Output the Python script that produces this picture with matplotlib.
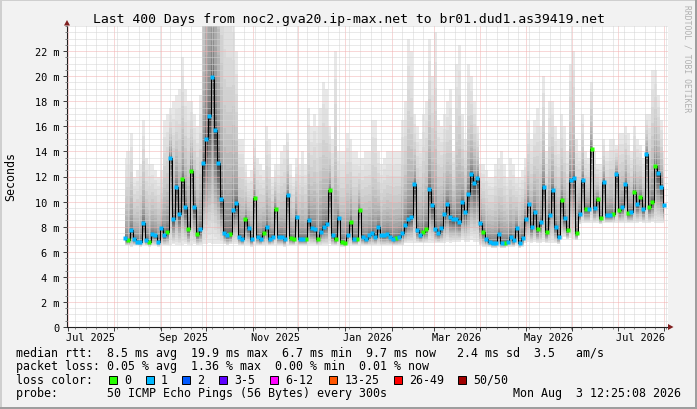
import datetime as dt
import numpy as np
import matplotlib
matplotlib.use("Agg")
import matplotlib.pyplot as plt
import matplotlib.dates as mdates
from matplotlib.patches import Polygon, Rectangle
from matplotlib.ticker import FixedLocator, MultipleLocator, FuncFormatter

# smokeping samples, one every 2 days starting 2025-08-08, values in ms
first_day = dt.datetime(2025, 8, 8)
step_days = 2

median_ms = [
    7.1, 6.9, 7.7, 7.0, 6.8, 6.8, 8.3, 6.9, 6.8, 7.4,
    7.3, 6.8, 7.9, 7.3, 7.6, 13.5, 8.6, 11.2, 9.0, 11.8,
    9.6, 7.8, 12.4, 9.6, 7.4, 7.8, 13.1, 15.0, 16.8, 19.9,
    15.7, 13.1, 10.2, 7.5, 7.3, 7.4, 9.3, 9.9, 7.2, 7.0,
    8.6, 7.9, 7.0, 10.3, 7.2, 7.0, 7.5, 8.0, 7.0, 7.2,
    9.4, 7.2, 7.2, 7.0, 10.5, 7.1, 7.0, 8.8, 7.0, 7.0,
    7.0, 8.5, 7.9, 7.8, 7.0, 7.6, 8.0, 8.2, 10.9, 7.3,
    7.0, 8.7, 6.8, 6.7, 7.3, 8.4, 7.0, 7.0, 9.3, 7.2,
    7.0, 7.3, 7.5, 7.2, 8.0, 7.3, 7.3, 7.4, 7.2, 7.0,
    7.1, 7.2, 7.5, 8.1, 8.6, 8.8, 11.4, 7.7, 7.3, 7.6,
    7.8, 11.0, 9.7, 7.8, 7.5, 7.9, 9.0, 9.8, 8.8, 8.6,
    8.6, 8.4, 10.0, 9.2, 10.6, 12.2, 11.5, 11.9, 8.3, 7.6,
    7.0, 6.8, 6.7, 6.7, 7.4, 6.7, 6.7, 6.8, 7.2, 6.9,
    7.9, 6.7, 7.1, 8.6, 9.8, 8.0, 9.2, 7.8, 8.4, 11.2,
    7.6, 8.9, 10.9, 8.0, 7.2, 10.1, 8.7, 7.7, 11.7, 11.9,
    7.5, 9.0, 11.7, 9.4, 9.4, 14.2, 9.5, 10.2, 8.7, 11.6,
    8.9, 8.9, 9.0, 12.2, 9.3, 9.6, 11.4, 9.1, 9.2, 10.8,
    9.8, 10.4, 9.4, 13.8, 9.6, 10.0, 12.8, 12.3, 11.2, 9.7,
]

# slowest ping of each sample (top of the smoke)
smoke_top_ms = [
    13.5, 14, 15.5, 12, 12.5, 13, 16.5, 13.5, 13, 13,
    12.5, 12, 12.5, 16.5, 17, 17.5, 18, 18.5, 19, 21.5,
    19, 18, 18, 17, 16, 18.5, 40, 55, 60, 60,
    55, 45, 32, 28, 27, 27, 26, 22, 15, 15,
    13, 12, 12.5, 15, 13.5, 13, 12.5, 16, 15, 12,
    13, 13, 14, 14.5, 15.5, 13, 12, 13.5, 13, 14,
    13, 17.5, 16, 17, 16, 17.5, 19.5, 19, 16, 15,
    22, 14, 14, 14, 15.5, 15, 14, 14, 13.5, 13.5,
    14, 14, 16.5, 16.5, 14, 13, 13.5, 14, 14, 14,
    14, 14, 16.5, 18, 23, 22, 17, 16, 15, 17,
    18, 23, 20, 23.5, 16.5, 16, 17, 18, 19, 14,
    21, 22.5, 17, 15, 21, 20, 18, 16, 13, 13,
    12.5, 12, 12, 13, 13.5, 14, 13, 12, 13.5, 13,
    12, 12, 12.5, 13.5, 16.5, 15, 16.5, 17.5, 16, 20,
    14, 18, 18, 16, 15, 17, 16, 14, 21, 22,
    15, 14, 17, 14, 13.5, 19.5, 14, 13, 13, 15,
    14, 15, 15, 14.5, 15.5, 15.5, 16, 15.5, 14, 16,
    15, 14.5, 13.5, 17, 17, 20.5, 20.5, 18.5, 16.5, 14,
]

# fastest ping of each sample (bottom of the smoke)
smoke_low_ms = [
    6.5, 6.5, 6.4, 6.5, 6.5, 6.4, 6.5, 6.5, 6.4, 6.5,
    6.5, 6.4, 6.5, 6.5, 6.5, 6.5, 6.6, 6.5, 6.5, 6.5,
    6.6, 6.5, 6.5, 6.6, 6.5, 6.5, 6.6, 6.6, 6.7, 6.6,
    6.6, 6.6, 6.6, 6.6, 6.5, 6.6, 6.6, 6.6, 6.5, 6.5,
    6.5, 6.5, 6.4, 6.5, 6.5, 6.5, 6.5, 6.5, 6.5, 6.5,
    6.5, 6.5, 6.5, 6.4, 6.5, 6.5, 6.5, 6.5, 6.5, 6.5,
    6.5, 6.5, 6.5, 6.5, 6.5, 6.5, 6.5, 6.5, 6.6, 6.5,
    6.5, 6.5, 6.4, 6.4, 6.5, 6.5, 6.5, 6.5, 6.5, 6.5,
    6.5, 6.5, 6.5, 6.5, 6.5, 6.5, 6.5, 6.5, 6.5, 6.5,
    6.5, 6.5, 6.5, 6.7, 6.7, 6.7, 6.7, 6.7, 6.7, 6.7,
    6.7, 6.7, 6.7, 6.7, 6.7, 6.7, 6.7, 6.8, 6.7, 6.8,
    6.8, 6.8, 6.9, 6.8, 6.8, 6.9, 6.8, 6.8, 6.5, 6.4,
    6.4, 6.4, 6.3, 6.3, 6.4, 6.3, 6.3, 6.4, 6.4, 6.4,
    6.5, 6.3, 6.4, 6.7, 6.8, 6.7, 6.8, 6.7, 6.7, 6.8,
    6.7, 6.7, 6.7, 6.7, 6.6, 7.0, 7.2, 7.0, 7.1, 7.0,
    6.9, 8.2, 8.3, 8.3, 8.3, 8.3, 8.3, 8.3, 8.2, 8.3,
    8.3, 8.3, 8.3, 8.3, 8.3, 8.3, 8.3, 8.3, 8.3, 8.3,
    8.3, 8.4, 8.3, 8.3, 8.3, 8.4, 8.3, 8.3, 8.3, 8.3,
]

# lost pings (of 50) per sample
lost_pings = [
    1, 0, 1, 1, 1, 1, 1, 1, 0, 1, 1, 1, 1, 1, 0, 1, 1, 1, 1, 0,
    1, 0, 0, 1, 0, 1, 1, 1, 1, 1, 1, 1, 1, 1, 1, 0, 1, 1, 1, 1,
    0, 1, 1, 0, 1, 1, 0, 1, 1, 1, 0, 1, 1, 1, 1, 0, 0, 1, 1, 1,
    0, 1, 1, 1, 0, 1, 1, 1, 0, 1, 0, 1, 0, 0, 1, 0, 1, 0, 0, 1,
    1, 1, 1, 1, 1, 1, 1, 1, 1, 1, 0, 1, 1, 1, 1, 1, 1, 1, 1, 0,
    0, 1, 1, 1, 1, 1, 1, 1, 1, 1, 1, 1, 1, 1, 1, 1, 1, 1, 1, 0,
    1, 1, 1, 1, 1, 1, 0, 1, 1, 1, 1, 1, 1, 1, 1, 1, 1, 0, 1, 1,
    0, 1, 1, 1, 1, 0, 1, 0, 1, 1, 0, 1, 1, 0, 1, 0, 1, 0, 0, 1,
    1, 1, 0, 1, 0, 1, 1, 0, 1, 0, 1, 0, 1, 1, 0, 0, 0, 1, 1, 1,
]

loss_labels = ["0", "1", "2", "3-5", "6-12", "13-25", "26-49", "50/50"]
loss_edges = [1, 2, 3, 6, 13, 26, 50]
loss_colors = ["#26ff00", "#00b8ff", "#0059ff", "#5e00ff",
               "#ff00ff", "#ff5500", "#ff0000", "#a10000"]

month_labels = ["Jul 2025", "Sep 2025", "Nov 2025", "Jan 2026",
                "Mar 2026", "May 2026", "Jul 2026"]
label_days = [dt.datetime(2025, 7, 16), dt.datetime(2025, 9, 16),
              dt.datetime(2025, 11, 16), dt.datetime(2026, 1, 16),
              dt.datetime(2026, 3, 16), dt.datetime(2026, 5, 16),
              dt.datetime(2026, 7, 16)]

title = "Last 400 Days from noc2.gva20.ip-max.net to br01.dud1.as39419.net"
rtt_line = "median rtt:  8.5 ms avg  19.9 ms max  6.7 ms min  9.7 ms now   2.4 ms sd  3.5   am/s"
loss_line = "packet loss: 0.05 % avg  1.36 % max  0.00 % min  0.01 % now"
probe_line = "probe:       50 ICMP Echo Pings (56 Bytes) every 300s"
stamp = "Mon Aug  3 12:25:08 2026"

plt.rcParams['font.family'] = ['DejaVu Sans Mono']

W, H = 697, 410
fig = plt.figure(figsize=(W / 100, H / 100), dpi=100, facecolor='#f2f2f2')


def fx(px):
    return px / W


def fy(py):
    return 1 - py / H


ax = fig.add_axes([fx(67), fy(328), (668 - 67) / W, (328 - 27) / H])
ax.set_facecolor('white')

dates = [first_day + dt.timedelta(days=step_days * i) for i in range(len(median_ms))]
xn = mdates.date2num(dates)
med = np.array(median_ms)
top = np.array(smoke_top_ms)
low = np.array(smoke_low_ms)

# smoke: nested bands, outermost pings lightest (smokeping style, 50 pings)
half = 25
for i in range(1, half + 1):
    r = (half + 1 - i) / half
    upper = med + (top - med) * r ** 4.0
    lower = med - (med - low) * r ** 1.6
    g = int(190 / half * (half - i)) + 50
    ax.fill_between(xn, lower, upper, step='mid', color='#%02x%02x%02x' % (g, g, g),
                    lw=0, zorder=1)

ax.step(xn, med, where='mid', color='black', lw=0.75, zorder=3)
cat = np.digitize(lost_pings, loss_edges)
for k, c in enumerate(loss_colors):
    m = cat == k
    if m.any():
        ax.plot(xn[m], med[m], 's', ms=2.5, color=c, mec='none', zorder=4)

ax.set_xlim(mdates.date2num(dt.datetime(2025, 6, 30, 12)),
            mdates.date2num(dt.datetime(2026, 8, 3, 12)))
ax.set_ylim(0, 24)
ax.xaxis.set_major_locator(mdates.MonthLocator())
ax.xaxis.set_minor_locator(mdates.WeekdayLocator(byweekday=mdates.SU))
ax.xaxis.set_major_formatter(plt.NullFormatter())
ax.yaxis.set_major_locator(FixedLocator(list(range(0, 23, 2))))
ax.yaxis.set_minor_locator(MultipleLocator(0.5))
ax.yaxis.set_major_formatter(FuncFormatter(lambda v, p: '0' if v == 0 else '%d m' % v))

ax.set_axisbelow(False)
ax.grid(True, which='minor', color='#d4d4d4', lw=0.72, ls=(0, (1, 1)))
ax.grid(True, which='major', color='#f2b0b0', lw=0.72, ls=(0, (1, 1)))

for s in ['top', 'right']:
    ax.spines[s].set_visible(False)
for s in ['left', 'bottom']:
    ax.spines[s].set_color('#1f1f1f')
    ax.spines[s].set_linewidth(0.8)
ax.tick_params(which='major', length=3, width=0.6, color='#1f1f1f', labelsize=7.36)
ax.tick_params(which='minor', length=1.5, width=0.5, color='#555555')
ax.tick_params(axis='y', pad=2.2)

for d, lab in zip(label_days, month_labels):
    ax.text(mdates.date2num(d), -0.032, lab, transform=ax.get_xaxis_transform(),
            ha='center', va='center', fontsize=7.36)

# axis arrows
fig.add_artist(Polygon([(fx(64), fy(26.5)), (fx(70), fy(26.5)), (fx(67), fy(21))],
                       closed=True, transform=fig.transFigure, color='#801f1f', lw=0))
fig.add_artist(Polygon([(fx(668), fy(325)), (fx(668), fy(331)), (fx(673.5), fy(328))],
                       closed=True, transform=fig.transFigure, color='#801f1f', lw=0))

# 3d frame
def band(x0, y0, x1, y1, c):
    fig.add_artist(Rectangle((fx(x0), fy(y1)), (x1 - x0) / W, (y1 - y0) / H,
                             transform=fig.transFigure, color=c, lw=0))


band(0, 0, 697, 2, '#cfcfcf')
band(0, 0, 2, 410, '#cfcfcf')
band(0, 408, 697, 410, '#9e9e9e')
band(695, 0, 697, 410, '#9e9e9e')

fig.text(fx(349), fy(19.5), title, ha='center', va='center', fontsize=9.47)
fig.text(fx(687), fy(59), 'RRDTOOL / TOBI OETIKER', rotation=270, ha='center',
         va='center', fontsize=5.78, color='#b0b0b0')
fig.text(fx(10.5), fy(177), 'Seconds', rotation=90, ha='center', va='center', fontsize=8.41)

fig.text(fx(16), fy(354), rtt_line, ha='left', va='center', fontsize=8.41)
fig.text(fx(16), fy(367), loss_line, ha='left', va='center', fontsize=8.41)
fig.text(fx(16), fy(380.5), 'loss color:', ha='left', va='center', fontsize=8.41)
box_x = [109, 145.5, 182, 219, 270, 329, 393.5, 458]
for bx, lab, c in zip(box_x, loss_labels, loss_colors):
    fig.add_artist(Rectangle((fx(bx), fy(384.5)), 8 / W, 8 / H, transform=fig.transFigure,
                             facecolor=c, edgecolor='black', lw=0.7))
    fig.text(fx(bx + 15.5), fy(380.5), lab, ha='left', va='center', fontsize=8.41)
fig.text(fx(16), fy(394), probe_line, ha='left', va='center', fontsize=8.41)
fig.text(fx(681), fy(394), stamp, ha='right', va='center', fontsize=8.41)

fig.savefig('out.png', dpi=100, facecolor=fig.get_facecolor())
